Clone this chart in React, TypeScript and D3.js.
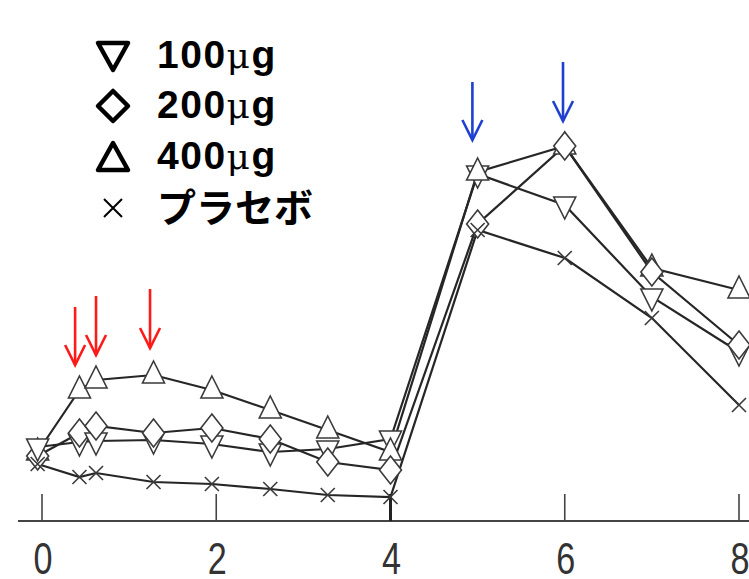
import * as d3 from "d3";

// time points (x axis) and the four dose groups, arbitrary response units
const times = [-0.05, 0.43, 0.62, 1.28, 1.95, 2.62, 3.28, 4.0, 5.0, 6.0, 7.0, 8.0];
const dose100 = [14.8, 15.8, 16.0, 16.2, 15.4, 13.8, 14.4, 16.4, 69.4, 63.2, 44.8, 33.8];
const dose200 = [13.0, 17.6, 19.0, 17.6, 18.6, 16.4, 11.8, 10.2, 59.4, 75.0, 49.8, 35.2];
const dose400 = [13.8, 26.2, 28.2, 29.2, 26.2, 22.2, 18.2, 13.8, 69.8, 75.0, 50.6, 46.2];
const placebo = [11.4, 8.8, 9.6, 7.8, 7.4, 6.4, 5.2, 4.8, 58.2, 52.6, 40.6, 23.2];

const xTicks = [0, 2, 4, 6, 8];

// arrows: time, top value, tip value
const redArrows = [
  { t: 0.38, top: 42.8, tip: 31.2 },
  { t: 0.62, top: 45.0, tip: 33.2 },
  { t: 1.24, top: 46.4, tip: 34.6 },
];
const blueArrows = [
  { t: 4.94, top: 87.8, tip: 76.2 },
  { t: 5.98, top: 91.8, tip: 80.0 },
];

const legendLabels = ["100", "200", "400", "プラセボ"];

const W = 749;
const H = 579;

// marker shapes
const triUp = "M0,-14L11,8L-11,8Z";
const triDown = "M0,14L11,-8L-11,-8Z";
const diamond = "M0,-14L11,0L0,14L-11,0Z";
const cross = "M-7,-7L7,7M-7,7L7,-7";

const series = [
  { name: "100", values: dose100, shape: triDown },
  { name: "400", values: dose400, shape: triUp },
  { name: "200", values: dose200, shape: diamond },
  { name: "placebo", values: placebo, shape: cross },
];

export default function App() {
  const x = d3.scaleLinear().domain([0, 8]).range([42, 739]);
  const y = d3.scaleLinear().domain([0, 100]).range([521, 21]);

  const line = d3
    .line<number>()
    .x((_, i) => x(times[i]))
    .y((d) => y(d));

  const arrow = (a: { t: number; top: number; tip: number }, color: string, key: string) => {
    const ax = x(a.t);
    const y0 = y(a.top);
    const y1 = y(a.tip);
    return (
      <g key={key} stroke={color} strokeWidth={2.6} fill="none">
        <line x1={ax} x2={ax} y1={y0} y2={y1} />
        <path d={`M${ax - 10},${y1 - 20}L${ax},${y1}L${ax + 10},${y1 - 20}`} />
      </g>
    );
  };

  // marker stacking per time point: at the first point the 100ug marker sits on top
  const orderAt = (i: number) =>
    i === 0 ? [series[1], series[2], series[0], series[3]] : series;

  // legend symbols
  const legendSyms = [
    "M-15,-13L15,-13L0,14Z",
    "M0,-15L15,0L0,15L-15,0Z",
    "M0,-14L15,13L-15,13Z",
    "M-9,-9L9,9M-9,9L9,-9",
  ];
  const legendY = [56, 106, 157, 208];
  const legendBase = [68, 118, 169, 222];

  return (
    <svg
      width={W}
      height={H}
      style={{ position: "absolute", left: 0, top: 0, background: "#fff" }}
    >
      {/* axis */}
      <line x1={18} x2={749} y1={521} y2={521} stroke="#444" strokeWidth={2} />
      {xTicks.map((t) => (
        <g key={t}>
          <line
            x1={x(t)}
            x2={x(t)}
            y1={494}
            y2={521}
            stroke={t === 4 ? "#222" : "#444"}
            strokeWidth={t === 4 ? 3 : 1.6}
          />
          <text
            transform={`translate(${x(t) + 1},574) scale(0.76,1)`}
            textAnchor="middle"
            fontFamily="'Liberation Sans', Arial, sans-serif"
            fontSize={45}
            fill="#333"
          >
            {t}
          </text>
        </g>
      ))}

      {/* lines */}
      {series.map((s) => (
        <path key={s.name} d={line(s.values)!} fill="none" stroke="#262626" strokeWidth={2.2} />
      ))}

      {/* markers */}
      {times.map((t, i) =>
        orderAt(i).map((s) => (
          <path
            key={s.name + i}
            d={s.shape}
            transform={`translate(${x(t)},${y(s.values[i])})`}
            fill={s.shape === cross ? "none" : "#fff"}
            stroke="#3a3a3a"
            strokeWidth={1.6}
          />
        ))
      )}

      {/* arrows */}
      {redArrows.map((a, i) => arrow(a, "#ff1a1a", "r" + i))}
      {blueArrows.map((a, i) => arrow(a, "#1f3fd0", "b" + i))}

      {/* legend */}
      {legendLabels.map((lab, i) => (
        <g key={lab}>
          <path
            d={legendSyms[i]}
            transform={`translate(113,${legendY[i]})`}
            fill="none"
            stroke="#000"
            strokeWidth={i === 3 ? 2 : 4.5}
            strokeLinejoin="round"
          />
          {i < 3 ? (
            <text
              x={157}
              y={legendBase[i]}
              fontFamily="'Liberation Sans', Arial, sans-serif"
              fontWeight="bold"
              fontSize={39}
              letterSpacing={1.5}
              fill="#000"
            >
              {lab}
              <tspan fontWeight="normal" fontFamily="'DejaVu Serif', serif" fontSize={36}>
                μ
              </tspan>
              <tspan>g</tspan>
            </text>
          ) : (
            <text
              x={157}
              y={legendBase[i]}
              fontFamily="'Noto Sans CJK JP', sans-serif"
              fontWeight="bold"
              fontSize={39}
              fill="#000"
            >
              {lab}
            </text>
          )}
        </g>
      ))}
    </svg>
  );
}
